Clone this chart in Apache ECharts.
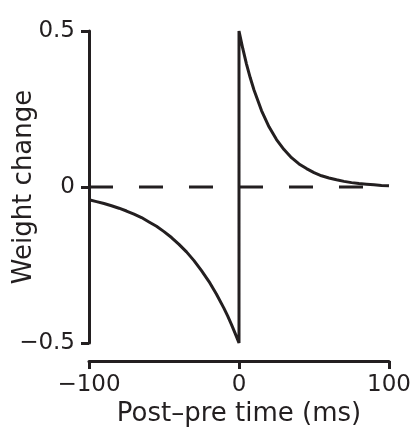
<!DOCTYPE html>
<html>
<head>
<meta charset="utf-8">
<script src="https://cdn.jsdelivr.net/npm/echarts@6/dist/echarts.min.js"></script>
<style>
  html, body { margin: 0; padding: 0; background: #fff; }
  #chart { width: 416px; height: 437px; }
</style>
</head>
<body>
<div id="chart"></div>
<script>
// post-before-pre side (depression)
let preTime = [-100, -95, -90, -85, -80, -75, -70, -65, -60, -55, -50, -45, -40, -35, -30, -25, -20, -15, -10, -7.5, -5, -2.5, 0];
let preChange = [-0.041, -0.047, -0.053, -0.060, -0.068, -0.077, -0.087, -0.098, -0.112, -0.126, -0.143, -0.162, -0.184, -0.208, -0.236, -0.268, -0.303, -0.344, -0.389, -0.414, -0.441, -0.470, -0.5];

// potentiation side
let postTime = [0, 2.5, 5, 7.5, 10, 15, 20, 25, 30, 35, 40, 45, 50, 55, 60, 65, 70, 75, 80, 85, 90, 95, 100];
let postChange = [0.5, 0.444, 0.394, 0.350, 0.311, 0.245, 0.193, 0.152, 0.120, 0.094, 0.074, 0.059, 0.046, 0.036, 0.029, 0.023, 0.018, 0.014, 0.011, 0.009, 0.007, 0.005, 0.004];

// dashed zero line
let zeroTime = [-100, 100];
let zeroChange = [0, 0];

let xTicks = [-100, 0, 100];
let yTicks = [-0.5, 0, 0.5];

let ink = '#231f20';
let font = 'DejaVu Sans';

function pairs(xs, ys) {
    return xs.map((x, i) => [x, ys[i]]);
}

function minus(v) {
    return String(v).replace('-', '\u2212');
}

let myChart = echarts.init(document.getElementById('chart'), null, {renderer: 'canvas'});

let curve = pairs(preTime, preChange).concat(pairs(postTime, postChange));

let option = {
    animation: false,
    backgroundColor: '#fff',
    grid: {
        left: 89,
        right: 27,
        top: 31,
        bottom: 94,
        containLabel: false,
        outerBoundsMode: 'none'
    },
    xAxis: {
        type: 'value',
        min: xTicks[0],
        max: xTicks[xTicks.length - 1],
        interval: 100,
        offset: 18,
        name: 'Post\u2013pre time (ms)',
        nameLocation: 'middle',
        nameGap: 40,
        nameMoveOverlap: false,
        nameTextStyle: {color: ink, fontFamily: font, fontSize: 26},
        axisLine: {show: true, onZero: false, lineStyle: {color: ink, width: 3}},
        axisTick: {show: true, length: 8, lineStyle: {color: ink, width: 3}},
        axisLabel: {
            color: ink, fontFamily: font, fontSize: 23, margin: 13,
            formatter: v => minus(v)
        },
        splitLine: {show: false}
    },
    yAxis: {
        type: 'value',
        min: yTicks[0],
        max: yTicks[yTicks.length - 1],
        interval: 0.5,
        name: 'Weight change',
        nameLocation: 'middle',
        nameGap: 52,
        nameRotate: 90,
        nameMoveOverlap: false,
        nameTextStyle: {color: ink, fontFamily: font, fontSize: 26},
        axisLine: {show: true, onZero: false, lineStyle: {color: ink, width: 3}},
        axisTick: {show: true, length: 8, lineStyle: {color: ink, width: 3}},
        axisLabel: {
            color: ink, fontFamily: font, fontSize: 23, margin: 14,
            formatter: v => minus(v)
        },
        splitLine: {show: false}
    },
    series: [
        {
            name: 'zero',
            type: 'line',
            data: pairs(zeroTime, zeroChange),
            showSymbol: false,
            symbol: 'none',
            lineStyle: {color: ink, width: 3, type: [24, 26]},
            z: 2
        },
        {
            name: 'stdp',
            type: 'line',
            data: curve,
            showSymbol: false,
            symbol: 'none',
            lineStyle: {color: ink, width: 3},
            z: 3
        }
    ]
};

myChart.setOption(option);
</script>
</body>
</html>
